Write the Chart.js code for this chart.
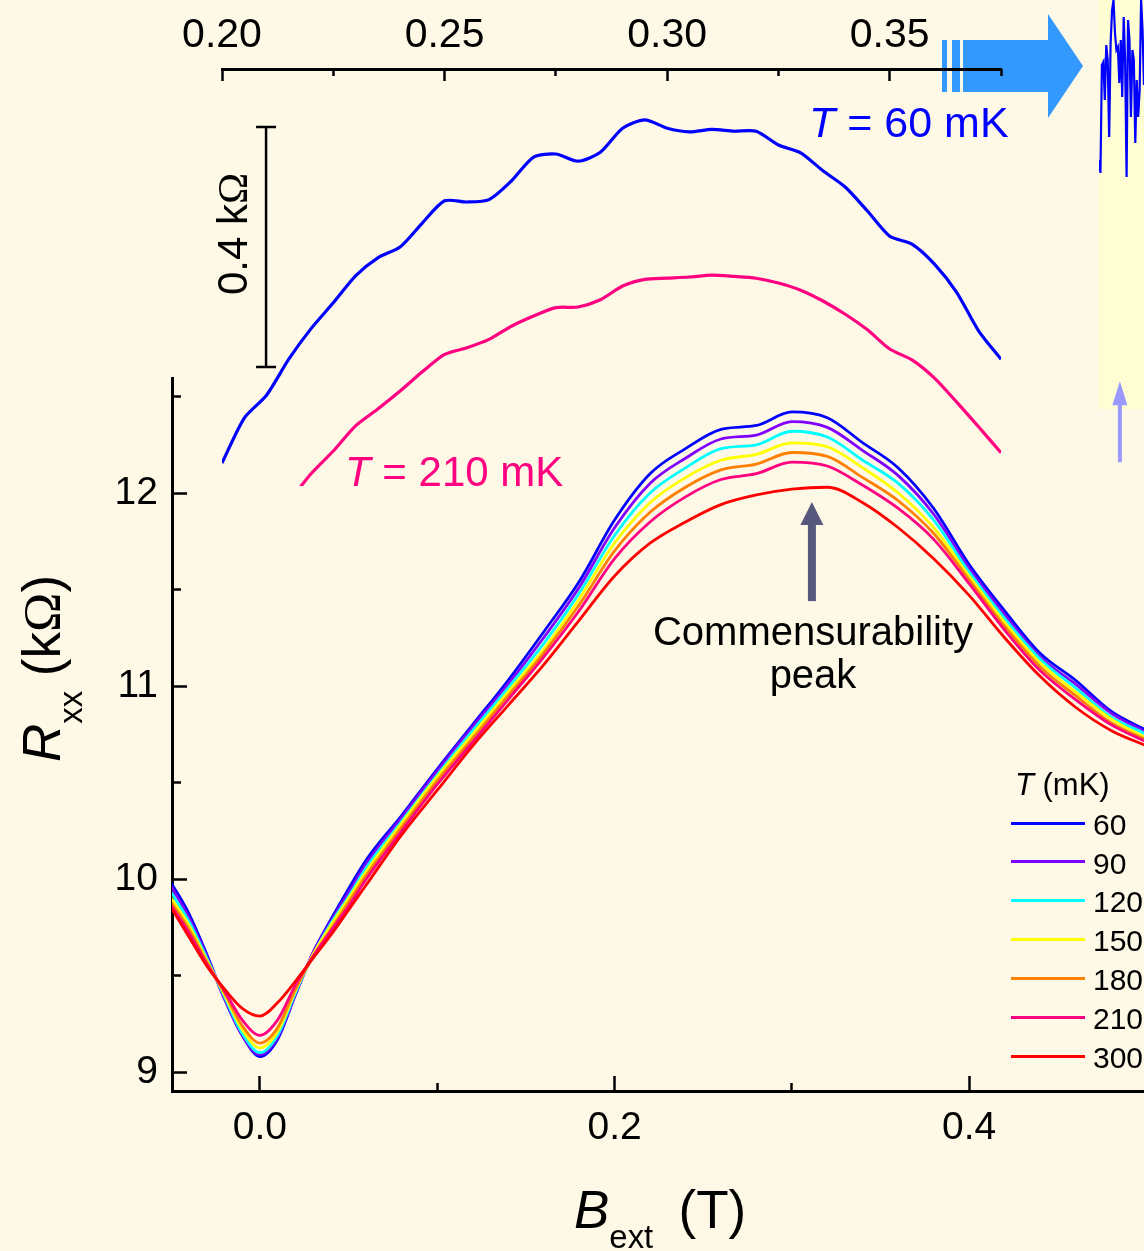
<!DOCTYPE html>
<html>
<head>
<meta charset="utf-8">
<script src="https://cdn.jsdelivr.net/npm/chart.js@4.4.1/dist/chart.umd.min.js"></script>
<style>
  html, body { margin: 0; padding: 0; background: #FEF8E6; }
  #page { position: relative; width: 1144px; height: 1251px; overflow: hidden; font-family: "Liberation Sans", Arial, sans-serif; }
  canvas { position: absolute; }
  .txt { position: absolute; white-space: nowrap; line-height: 1; color: #000; }
  .sub { position: relative; font-size: 0.62em; }
  .om { font-family: "Liberation Serif", "Times New Roman", serif; }
</style>
</head>
<body>
<div id="page">
  <canvas id="noiseChart" width="45" height="409" style="left:1099px;top:0;background:#FFFDD2"></canvas>
  <canvas id="mainChart" width="1144" height="1251" style="left:0;top:0"></canvas>
  <canvas id="insetChart" width="1144" height="490" style="left:0;top:0"></canvas>
</div>
<script>
// ---- main panel data: B_ext (T) vs R_xx (kOhm) ----
const fieldB = [-0.05, -0.04, -0.03, -0.02, -0.01, 0.00, 0.01, 0.02, 0.03, 0.04, 0.05, 0.06, 0.08, 0.10, 0.12, 0.14, 0.16,
    0.18, 0.20, 0.22, 0.24, 0.26, 0.28, 0.30, 0.32, 0.34, 0.36, 0.38, 0.40, 0.42, 0.44, 0.46, 0.48, 0.50];
const rxx60 = [9.98, 9.82, 9.61, 9.38, 9.19, 9.08, 9.17, 9.40, 9.62, 9.79, 9.95, 10.10, 10.33, 10.57, 10.80, 11.03, 11.28,
    11.54, 11.86, 12.10, 12.23, 12.33, 12.35, 12.42, 12.39, 12.26, 12.13, 11.92, 11.63, 11.39, 11.17, 11.03, 10.87, 10.77];
const rxx90 = [9.96, 9.80, 9.60, 9.38, 9.19, 9.09, 9.18, 9.40, 9.62, 9.78, 9.93, 10.08, 10.32, 10.56, 10.79, 11.01, 11.25,
    11.51, 11.82, 12.05, 12.18, 12.28, 12.30, 12.37, 12.34, 12.22, 12.09, 11.89, 11.61, 11.37, 11.15, 11.01, 10.86, 10.76];
const rxx120 = [9.93, 9.78, 9.59, 9.39, 9.20, 9.10, 9.19, 9.41, 9.61, 9.77, 9.91, 10.06, 10.30, 10.54, 10.77, 10.99, 11.22,
    11.48, 11.78, 12.00, 12.13, 12.23, 12.25, 12.32, 12.29, 12.17, 12.05, 11.86, 11.59, 11.35, 11.14, 10.99, 10.84, 10.75];
const rxx150 = [9.90, 9.76, 9.58, 9.40, 9.22, 9.125, 9.21, 9.42, 9.61, 9.76, 9.90, 10.04, 10.29, 10.53, 10.75, 10.97, 11.19,
    11.45, 11.74, 11.95, 12.08, 12.17, 12.20, 12.26, 12.24, 12.13, 12.00, 11.82, 11.57, 11.33, 11.12, 10.97, 10.83, 10.73];
const rxx180 = [9.88, 9.74, 9.57, 9.41, 9.24, 9.15, 9.23, 9.43, 9.60, 9.74, 9.88, 10.02, 10.27, 10.51, 10.73, 10.95, 11.17,
    11.42, 11.70, 11.90, 12.03, 12.12, 12.15, 12.21, 12.19, 12.08, 11.96, 11.79, 11.55, 11.31, 11.10, 10.95, 10.81, 10.72];
const rxx210 = [9.86, 9.72, 9.56, 9.42, 9.27, 9.19, 9.27, 9.45, 9.60, 9.73, 9.86, 10.00, 10.25, 10.49, 10.71, 10.93, 11.15,
    11.39, 11.66, 11.85, 11.98, 12.07, 12.10, 12.16, 12.14, 12.04, 11.92, 11.76, 11.53, 11.29, 11.08, 10.93, 10.80, 10.71];
const rxx300 = [9.85, 9.70, 9.55, 9.43, 9.33, 9.29, 9.36, 9.47, 9.59, 9.71, 9.84, 9.97, 10.23, 10.46, 10.69, 10.90, 11.11,
    11.34, 11.57, 11.74, 11.85, 11.94, 11.99, 12.02, 12.03, 11.95, 11.82, 11.66, 11.47, 11.25, 11.05, 10.89, 10.77, 10.69];

const tempLabels = ["60", "90", "120", "150", "180", "210", "300"];
const tempColors = ["#0000FF", "#8000FF", "#00FFFF", "#FFFF00", "#FF8000", "#FF0080", "#FF0000"];
const tempSeries = [rxx60, rxx90, rxx120, rxx150, rxx180, rxx210, rxx300];

const xMajorTicks = [0.0, 0.2, 0.4];
const xMinorTicks = [0.1, 0.3];
const yMajorTicks = [9, 10, 11, 12];
const yMinorTicks = [9.5, 10.5, 11.5, 12.5];

// ---- inset data: offset curves (kOhm, arbitrary zero) ----
const insetB = [0.200, 0.205, 0.210, 0.215, 0.220, 0.225, 0.230, 0.235, 0.240, 0.245, 0.250, 0.255, 0.260, 0.265, 0.270,
    0.275, 0.280, 0.285, 0.290, 0.295, 0.300, 0.305, 0.310, 0.315, 0.320, 0.325, 0.330, 0.335, 0.340, 0.345, 0.350,
    0.355, 0.360, 0.365, 0.370, 0.375];
const inset60 = [-0.160, -0.085, -0.047, 0.013, 0.064, 0.107, 0.152, 0.182, 0.200, 0.240, 0.277, 0.275, 0.279, 0.310, 0.350,
    0.355, 0.343, 0.358, 0.398, 0.412, 0.398, 0.392, 0.396, 0.393, 0.393, 0.370, 0.357, 0.327, 0.300, 0.260, 0.218,
    0.205, 0.172, 0.125, 0.060, 0.013];
const inset210 = [null, null, null, -0.225, -0.178, -0.140, -0.098, -0.070, -0.040, -0.008, 0.021, 0.032, 0.046, 0.068, 0.085,
    0.099, 0.100, 0.112, 0.135, 0.146, 0.148, 0.150, 0.153, 0.151, 0.148, 0.140, 0.128, 0.110, 0.088, 0.062, 0.030,
    0.012, -0.018, -0.058, -0.100, -0.143];
const insetMajorTicks = [0.20, 0.25, 0.30, 0.35];
const insetMinorTicks = [0.225, 0.275, 0.325, 0.375];

// ---- zoomed noise trace on the right edge ----
const noiseTrace = [249, 236, 344, 347, 309, 364, 349, 272, 366, 399, 409, 376, 359, 362, 326, 369, 312, 392, 349, 232,
    389, 369, 292, 359, 349, 266, 329, 292, 319, 409, 379, 324];

Chart.defaults.font.family = "'Liberation Sans', Arial, sans-serif";
Chart.defaults.color = "#000";

const fixedTicks = values => scale => { scale.ticks = values.map(v => ({ value: v })); };
const toPoints = (xs, ys) => xs.map((x, i) => ({ x: x, y: ys[i] }));

function tickAxis(pos, min, max, ticks, len, extra) {
    return Object.assign({
        type: "linear", position: pos, min: min, max: max,
        afterBuildTicks: fixedTicks(ticks),
        border: { display: false },
        grid: { drawOnChartArea: false, tickLength: len, tickWidth: 2.5, tickColor: "#000" },
        ticks: { display: false }
    }, extra);
}

// Main chart
const mainArrows = {
    id: "mainArrows",
    afterDatasetsDraw(chart) {
        const { ctx, scales: { x, y } } = chart;
        // Commensurability peak arrow
        const ax = x.getPixelForValue(0.3113);
        const tip = y.getPixelForValue(11.953);
        const base = y.getPixelForValue(11.44);
        ctx.save();
        ctx.fillStyle = "#58587F";
        ctx.fillRect(ax - 4, tip + 22, 8, base - tip - 22);
        ctx.beginPath();
        ctx.moveTo(ax, tip);
        ctx.lineTo(ax + 11.5, tip + 23);
        ctx.lineTo(ax - 11.5, tip + 23);
        ctx.closePath();
        ctx.fill();
        ctx.restore();
    },
    afterDraw(chart) {
        const { ctx, scales: { x, y } } = chart;
        // small pointer towards the noise panel
        const px = x.getPixelForValue(0.485);
        const tip = y.getPixelForValue(12.6) + 4;
        const base = y.getPixelForValue(12.16);
        ctx.save();
        ctx.fillStyle = "#9999FF";
        ctx.fillRect(px - 2, tip + 20, 4, base - tip - 20);
        ctx.beginPath();
        ctx.moveTo(px, tip);
        ctx.lineTo(px + 7.5, tip + 24);
        ctx.lineTo(px - 7.5, tip + 24);
        ctx.closePath();
        ctx.fill();
        ctx.restore();
    }
};

new Chart(document.getElementById("mainChart"), {
    type: "line",
    data: {
        datasets: tempSeries.map((s, i) => ({
            label: tempLabels[i] + " mK",
            data: toPoints(fieldB, s),
            borderColor: tempColors[i],
            borderWidth: 2.8,
            pointRadius: 0,
            cubicInterpolationMode: "monotone",
            xAxisID: "x",
            yAxisID: "y",
            order: tempSeries.length - i
        }))
    },
    options: {
        responsive: false,
        devicePixelRatio: 1,
        animation: false,
        layout: { padding: { left: 0, right: 0, top: 378, bottom: 100 }, autoPadding: false },
        plugins: { legend: { display: false }, tooltip: { enabled: false } },
        scales: {
            x: {
                type: "linear", position: "bottom", min: -0.0496, max: 0.4986,
                afterBuildTicks: fixedTicks(xMajorTicks),
                afterFit: s => { s.height = 60; },
                border: { color: "#000", width: 3 },
                grid: { drawOnChartArea: false, tickLength: -15, tickWidth: 2.5, tickColor: "#000" },
                ticks: { font: { size: 39 }, padding: 29, maxRotation: 0, callback: v => v.toFixed(1) }
            },
            xMinor: tickAxis("bottom", -0.0496, 0.4986, xMinorTicks, -8, { weight: -1, afterFit: s => { s.height = 0; } }),
            y: {
                type: "linear", position: "left", min: 8.9016, max: 12.596,
                afterBuildTicks: fixedTicks(yMajorTicks),
                afterFit: s => { s.width = 172; },
                border: { color: "#000", width: 3 },
                grid: { drawOnChartArea: false, tickLength: -15, tickWidth: 2.5, tickColor: "#000" },
                ticks: { font: { size: 39 }, padding: 29, callback: v => String(v) }
            },
            yMinor: tickAxis("left", 8.9016, 12.596, yMinorTicks, -9, { weight: -1, afterFit: s => { s.width = 0; } })
        }
    },
    plugins: [mainArrows]
});

// Inset chart
const insetDecor = {
    id: "insetDecor",
    beforeDraw(chart) {
        const { ctx, chartArea: a } = chart;
        // big arrow pointing to the zoomed trace
        ctx.save();
        ctx.fillStyle = "#3399FF";
        ctx.fillRect(a.right - 59, 40, 5, 52);
        ctx.fillRect(a.right - 49, 40, 8, 52);
        ctx.fillRect(a.right - 38, 40, 86, 52);
        ctx.beginPath();
        ctx.moveTo(a.right + 47, 14);
        ctx.lineTo(a.right + 82, 66);
        ctx.lineTo(a.right + 47, 118);
        ctx.closePath();
        ctx.fill();
        ctx.restore();
    },
    afterDraw(chart) {
        const { ctx, scales: { x, y } } = chart;
        // 0.4 kOhm scale bar
        const bx = x.getPixelForValue(0.2099);
        const y0 = y.getPixelForValue(0);
        const y1 = y.getPixelForValue(0.4);
        ctx.save();
        ctx.strokeStyle = "#000";
        ctx.lineWidth = 2.5;
        ctx.beginPath();
        ctx.moveTo(bx, y0); ctx.lineTo(bx, y1);
        ctx.moveTo(bx - 10, y0); ctx.lineTo(bx + 10, y0);
        ctx.moveTo(bx - 10, y1); ctx.lineTo(bx + 10, y1);
        ctx.stroke();
        ctx.restore();
    }
};

new Chart(document.getElementById("insetChart"), {
    type: "line",
    data: {
        datasets: [
            { label: "60 mK", data: toPoints(insetB, inset60), borderColor: "#0000FF" },
            { label: "210 mK", data: toPoints(insetB, inset210), borderColor: "#FF0080" }
        ].map(d => Object.assign(d, { borderWidth: 3.2, pointRadius: 0, tension: 0.25, xAxisID: "x", yAxisID: "y" }))
    },
    options: {
        responsive: false,
        devicePixelRatio: 1,
        animation: false,
        layout: { padding: { left: 222, right: 143, top: 0, bottom: 4 }, autoPadding: false },
        plugins: { legend: { display: false }, tooltip: { enabled: false } },
        scales: {
            x: {
                type: "linear", position: "top", min: 0.2, max: 0.375,
                afterBuildTicks: fixedTicks(insetMajorTicks),
                afterFit: s => { s.height = 69; },
                border: { color: "#000", width: 3 },
                grid: { drawOnChartArea: false, tickLength: -12, tickWidth: 2.5, tickColor: "#000" },
                ticks: { font: { size: 41 }, padding: 21, maxRotation: 0, callback: v => v.toFixed(2) }
            },
            xMinor: tickAxis("top", 0.2, 0.375, insetMinorTicks, -7, { weight: -1, afterFit: s => { s.height = 0; } }),
            y: { type: "linear", display: false, min: -0.1983, max: 0.4967 }
        }
    },
    plugins: [insetDecor]
});

// Noise panel
new Chart(document.getElementById("noiseChart"), {
    type: "line",
    data: {
        datasets: [{
            data: toPoints(noiseTrace.map((_, i) => i), noiseTrace),
            borderColor: "#0000FF", borderWidth: 2.2, pointRadius: 0, tension: 0
        }]
    },
    options: {
        responsive: false,
        devicePixelRatio: 1,
        animation: false,
        layout: { padding: 0, autoPadding: false },
        plugins: { legend: { display: false }, tooltip: { enabled: false } },
        scales: {
            x: { type: "linear", display: false, min: 0, max: noiseTrace.length - 1 },
            y: { type: "linear", display: false, min: 0, max: 409 }
        }
    }
});

// Text overlays
const page = document.getElementById("page");
function addText(html, x, baseline, size, color, center) {
    const d = document.createElement("div");
    d.className = "txt";
    d.innerHTML = html;
    d.style.fontSize = size + "px";
    d.style.left = x + "px";
    d.style.top = (baseline - 0.8465 * size) + "px";
    if (color) d.style.color = color;
    if (center) d.style.transform = "translateX(-50%)";
    page.appendChild(d);
    return d;
}
function addVertical(html, baselineX, startY, size) {
    const d = document.createElement("div");
    d.className = "txt";
    d.innerHTML = html;
    d.style.fontSize = size + "px";
    d.style.left = (baselineX - 0.8465 * size) + "px";
    d.style.top = startY + "px";
    d.style.transformOrigin = "0 0";
    d.style.transform = "rotate(-90deg)";
    page.appendChild(d);
    return d;
}

addVertical('<i>R</i><span class="sub" style="top:22px">xx</span> (k<span class="om">&Omega;</span>)', 60, 762, 53);
addText('<i>B</i><span class="sub" style="top:20px">ext</span>&nbsp;&thinsp;(T)', 574, 1228, 53);
addVertical('0.4 k<span class="om">&Omega;</span>', 248, 295, 42);

addText("<i>T</i> = 60 mK", 809, 137, 43, "#0000FF");
addText("<i>T</i> = 210 mK", 345, 487, 42, "#FF0080");
addText("Commensurability", 813, 645, 40, null, true);
addText("peak", 813, 688, 40, null, true);

// legend
addText("<i>T</i> (mK)", 1015, 795, 31);
tempLabels.forEach((lab, i) => {
    const ly = 823 + i * 38.9;
    const line = document.createElement("div");
    line.style.cssText = `position:absolute;left:1011px;top:${ly - 1.5}px;width:74px;height:3px;background:${tempColors[i]}`;
    page.appendChild(line);
    addText(lab, 1093, ly + 12, 30);
});
</script>
</body>
</html>
